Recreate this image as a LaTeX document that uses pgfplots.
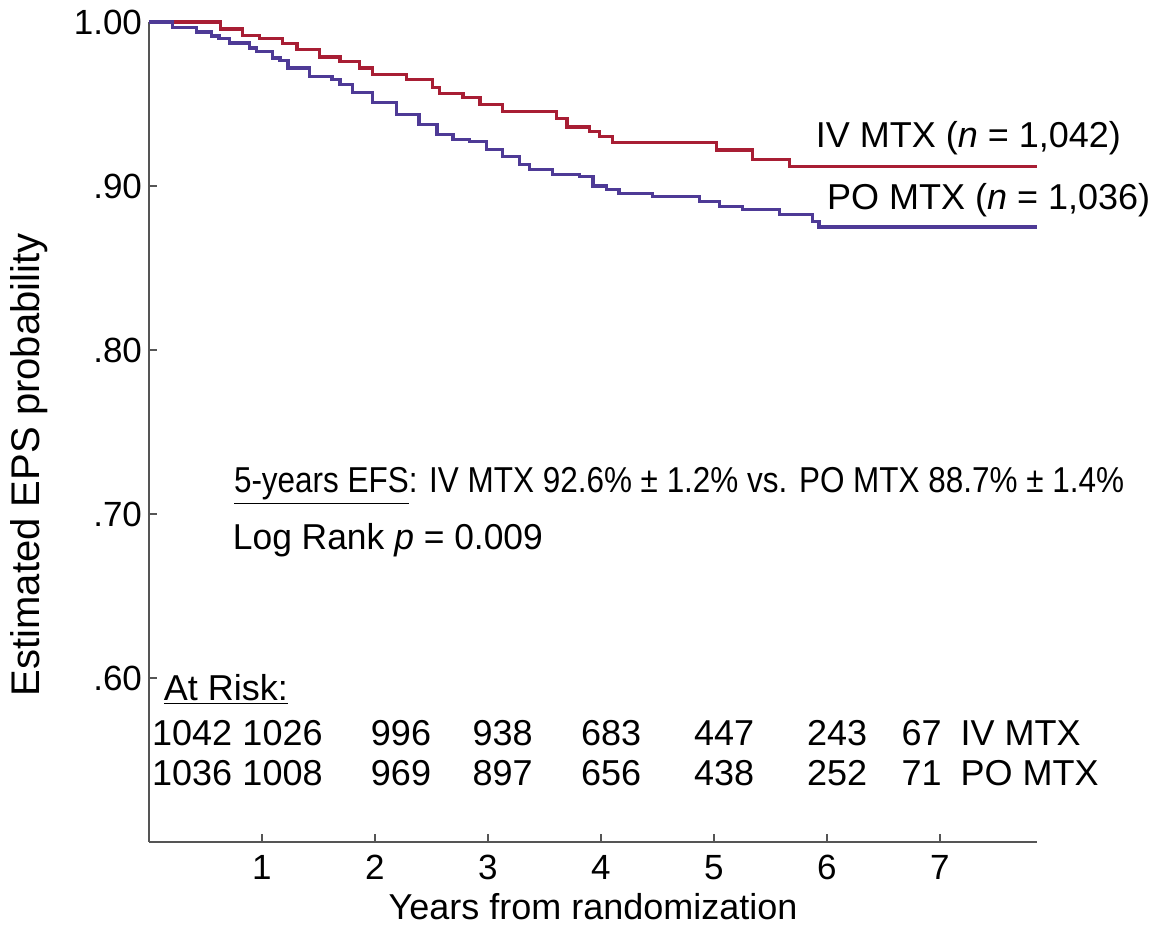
\documentclass[border=0pt]{standalone}
\usepackage{fontspec}
\setmainfont{Liberation Sans}
\usepackage{graphicx}
\usepackage{pgfplots}
\pgfplotsset{compat=1.18}

\definecolor{ivred}{RGB}{168,30,52}
\definecolor{poblue}{RGB}{78,58,150}
\definecolor{axgray}{RGB}{85,85,85}

% Kaplan-Meier steps (years, probability)
\pgfplotstableread{
t     s
0     1.000
0.63  0.9957
0.83  0.992
0.98  0.990
1.18  0.987
1.31  0.983
1.51  0.9787
1.69  0.9757
1.86  0.972
1.98  0.968
2.28  0.9647
2.51  0.960
2.57  0.9562
2.78  0.954
2.93  0.9495
3.13  0.9453
3.61  0.941
3.70  0.936
3.90  0.933
3.99  0.930
4.10  0.9265
5.02  0.922
5.34  0.916
5.67  0.912
7.86  0.912
}\ivdata

\pgfplotstableread{
t     s
0     1.000
0.21  0.9964
0.42  0.9939
0.55  0.9915
0.62  0.9897
0.71  0.9872
0.89  0.9842
0.95  0.9818
1.09  0.978
1.16  0.9763
1.23  0.972
1.42  0.967
1.62  0.9647
1.69  0.9617
1.80  0.9568
1.98  0.9508
2.19  0.9435
2.39  0.9374
2.55  0.9313
2.69  0.9283
2.84  0.927
2.99  0.9222
3.13  0.918
3.28  0.913
3.37  0.910
3.57  0.907
3.81  0.906
3.93  0.900
4.05  0.898
4.16  0.8955
4.46  0.8936
4.87  0.8906
5.05  0.8875
5.25  0.8857
5.58  0.8827
5.87  0.8784
5.93  0.875
7.86  0.875
}\podata

\newcommand{\txt}{\fontsize{18}{21}\selectfont}
\tikzset{risk/.style={anchor=east, font=\txt, inner sep=0pt}}

\begin{document}
\begin{tikzpicture}
  \begin{axis}[
      scale only axis,
      width=444pt, height=410pt,
      xmin=0, xmax=7.86, ymin=0.5, ymax=1.0,
      axis lines=left,
      axis line style={-, axgray, line width=1.3pt},
      tick align=inside,
      major tick length=4pt,
      tick style={axgray, line width=1pt},
      xtick={1,2,...,7},
      ytick={0.6,0.7,0.8,0.9,1.0},
      yticklabels={.60,.70,.80,.90,1.00},
      /pgf/number format/assume math mode=true,
      tick label style={font=\fontsize{17.5}{20}\selectfont},
      xticklabel style={yshift=-3pt},
      xlabel={Years from randomization},
      ylabel={Estimated EPS probability},
      xlabel style={font=\txt},
      ylabel style={font=\fontsize{20}{24}\selectfont,
                    at={(axis description cs:-0.135,0.46)}, anchor=center},
      clip=false,
    ]

    \addplot[const plot, ivred, line width=1.6pt] table[x=t, y=s] {\ivdata};
    \addplot[const plot, poblue, line width=1.6pt] table[x=t, y=s] {\podata};

    % curve labels
    \node[anchor=west, font=\txt] at (axis cs:5.84,0.929) {IV MTX (\textit{n} = 1,042)};
    \node[anchor=west, font=\txt] at (axis cs:5.94,0.8915) {PO MTX (\textit{n} = 1,036)};

    % summary text
    \node[anchor=west, font=\txt] at (axis cs:0.69,0.717)
      {\resizebox{445pt}{\height}{\underline{5-years EFS}: IV MTX 92.6\% ± 1.2\% vs. PO MTX 88.7\% ± 1.4\%}};
    \node[anchor=west, font=\txt] at (axis cs:0.68,0.684)
      {\resizebox{155pt}{\height}{Log Rank \textit{p} = 0.009}};

    % number at risk
    \node[anchor=west, font=\txt] at (axis cs:0.07,0.593) {\underline{At Risk:}};
    \node[risk] at (axis cs:0.74,0.5665) {1042};
    \node[risk] at (axis cs:1.54,0.5665) {1026};
    \node[risk] at (axis cs:2.50,0.5665) {996};
    \node[risk] at (axis cs:3.40,0.5665) {938};
    \node[risk] at (axis cs:4.36,0.5665) {683};
    \node[risk] at (axis cs:5.36,0.5665) {447};
    \node[risk] at (axis cs:6.36,0.5665) {243};
    \node[risk] at (axis cs:7.02,0.5665) {67};
    \node[risk] at (axis cs:0.74,0.542) {1036};
    \node[risk] at (axis cs:1.54,0.542) {1008};
    \node[risk] at (axis cs:2.50,0.542) {969};
    \node[risk] at (axis cs:3.40,0.542) {897};
    \node[risk] at (axis cs:4.36,0.542) {656};
    \node[risk] at (axis cs:5.36,0.542) {438};
    \node[risk] at (axis cs:6.36,0.542) {252};
    \node[risk] at (axis cs:7.02,0.542) {71};
    \node[anchor=west, font=\txt, inner sep=0pt] at (axis cs:7.18,0.5665) {IV MTX};
    \node[anchor=west, font=\txt, inner sep=0pt] at (axis cs:7.18,0.542) {PO MTX};
  \end{axis}
  \pgfresetboundingbox
  \path[use as bounding box]
    ([xshift=-74.5pt, yshift=-49pt]current axis.south west)
    rectangle ([xshift=501.5pt, yshift=421pt]current axis.south west);
\end{tikzpicture}
\end{document}
